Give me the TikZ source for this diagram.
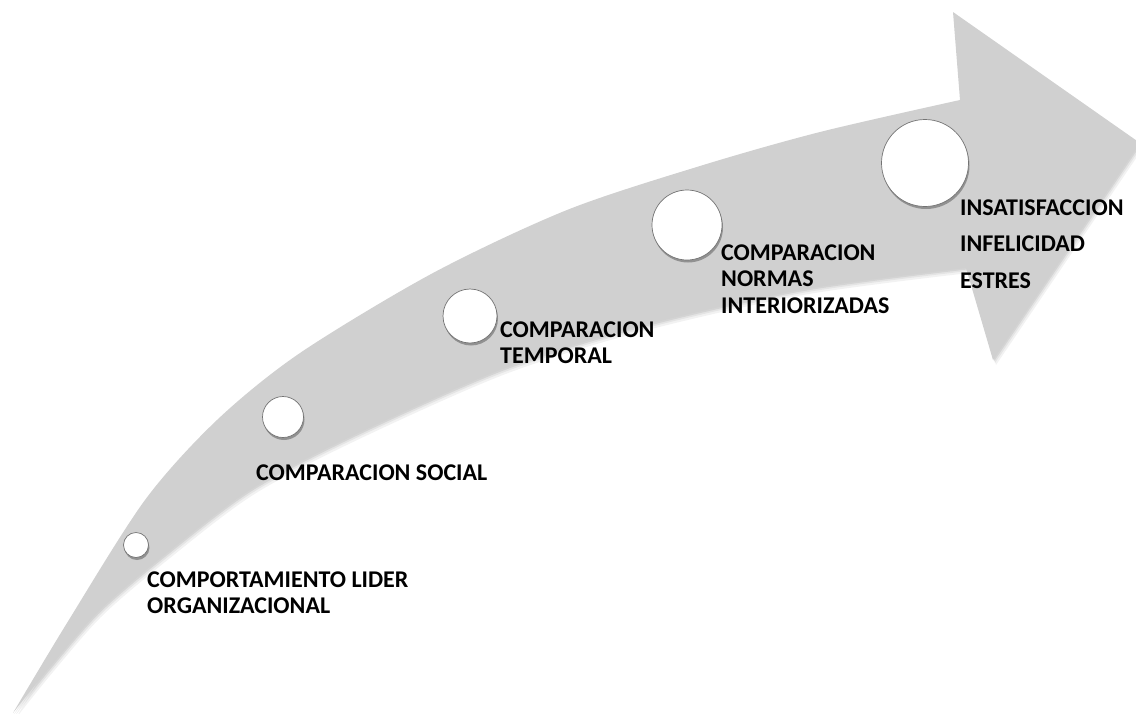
\documentclass[tikz,border=0pt]{standalone}
\usepackage{fontspec}
\setmainfont{Carlito}
\usetikzlibrary{shadows}
\definecolor{arrowgray}{HTML}{D0D0D0}
\begin{document}
\begin{tikzpicture}[x=1pt,y=-1pt,
  arrowshape/.pic={
    \fill[pic actions]
      plot[smooth] coordinates {(13,713) (67,623) (145,500) (217,420) (300,353)
                                (433,273) (567,210) (700,166) (820,132) (960,100)}
      -- (953,12) -- (1140,143) -- (993,360) -- (966,268)
      -- plot[smooth] coordinates {(966,268) (800,290) (633,328) (500,370) (350,437)
                                   (250,490) (167,553) (100,610) (50,667) (13,713)}
      -- cycle;
  },
  dot/.style={circle, fill=white, draw=black!55, line width=0.7pt, inner sep=0pt,
    drop shadow={shadow xshift=1pt, shadow yshift=-2.5pt, opacity=0.3, fill=black}},
  lbl/.style={anchor=base west, inner sep=0pt, font=\fontsize{24}{26}\selectfont\bfseries}]
\useasboundingbox (0,0) rectangle (1136,713);
\clip (0,0) rectangle (1136,713);

% soft shadow under the curved arrow
\pic[fill=black, opacity=0.05] at (3,5) {arrowshape};
\pic[fill=black, opacity=0.06] at (2,3) {arrowshape};
\pic[fill=black, opacity=0.07] at (1,1.5) {arrowshape};
% the curved arrow
\pic[fill=arrowgray] at (0,0) {arrowshape};

% stages along the arrow
\node[dot, minimum size=25pt] (c1) at (136,545) {};
\node[dot, minimum size=41pt] (c2) at (283,417) {};
\node[dot, minimum size=54pt] (c3) at (470,316) {};
\node[dot, minimum size=70pt] (c4) at (687,225) {};
\node[dot, minimum size=87pt] (c5) at (925,163) {};

% labels
\node[lbl] (t1) at (147,587) {\vtop{\baselineskip=26pt\hbox{COMPORTAMIENTO LIDER}\hbox{ORGANIZACIONAL}}};
\node[lbl] (t2) at (256,480) {COMPARACION SOCIAL};
\node[lbl] (t3) at (500,337) {\vtop{\baselineskip=26pt\hbox{COMPARACION}\hbox{TEMPORAL}}};
\node[lbl] (t4) at (721,260) {\vtop{\baselineskip=26.5pt\hbox{COMPARACION}\hbox{NORMAS}\hbox{INTERIORIZADAS}}};
\node[lbl] (t5) at (960,215) {\vtop{\baselineskip=36.5pt\hbox{INSATISFACCION}\hbox{INFELICIDAD}\hbox{ESTRES}}};
\end{tikzpicture}
\end{document}
